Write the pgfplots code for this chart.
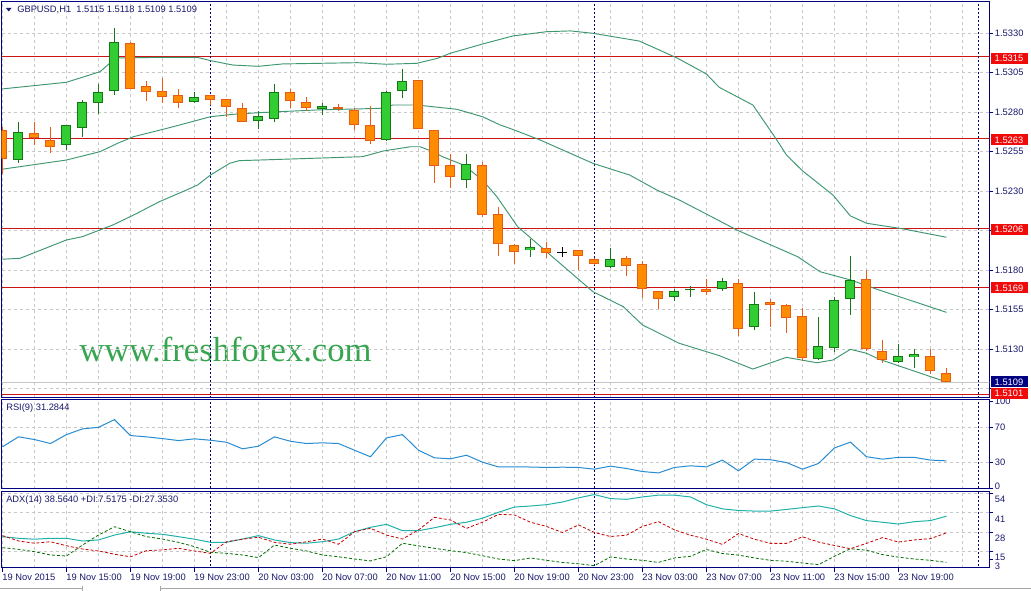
\documentclass[border=0pt]{standalone}
\usepackage{pgfplots}
\pgfplotsset{compat=1.18}
\usepackage{pgfplotstable}
\usepackage{fontspec}
\setmainfont{Liberation Sans}
\newfontfamily\wmfont{Liberation Serif}
\definecolor{navyc}{RGB}{25,25,110}
\definecolor{framec}{RGB}{0,0,128}
\definecolor{gridc}{RGB}{200,200,200}
\definecolor{bullfill}{RGB}{50,205,50}
\definecolor{bullline}{RGB}{20,120,20}
\definecolor{bearfill}{RGB}{255,140,0}
\definecolor{bearline}{RGB}{232,92,20}
\definecolor{bandc}{RGB}{60,150,110}
\definecolor{lvlred}{RGB}{205,20,20}
\definecolor{boxred}{RGB}{240,10,10}
\definecolor{rsic}{RGB}{40,140,210}
\definecolor{adxc}{RGB}{32,178,170}
\definecolor{dipc}{RGB}{0,110,0}
\definecolor{dimc}{RGB}{200,0,0}
\definecolor{wmc}{RGB}{55,165,80}

\pgfplotstableread{
k O H L C
1 1.52494 1.52737 1.52479 1.52671
4 1.52593 1.52716 1.52559 1.52716
5 1.52701 1.52876 1.52644 1.52861
6 1.52855 1.52977 1.52785 1.52927
7 1.52931 1.53332 1.52909 1.53241
12 1.52861 1.52927 1.52855 1.52893
16 1.52741 1.52808 1.52691 1.52773
17 1.52758 1.52977 1.52739 1.52928
20 1.52821 1.52855 1.52783 1.52842
24 1.52621 1.52930 1.52615 1.52925
25 1.52931 1.53070 1.52891 1.52994
29 1.52372 1.52532 1.52321 1.52473
33 1.51925 1.51994 1.51884 1.51944
38 1.51821 1.51937 1.51815 1.51868
42 1.51627 1.51678 1.51606 1.51665
43 1.51675 1.51697 1.51631 1.51684
45 1.51678 1.51747 1.51665 1.51728
47 1.51437 1.51659 1.51422 1.51583
51 1.51235 1.51507 1.51230 1.51317
52 1.51304 1.51627 1.51279 1.51608
53 1.51615 1.51887 1.51513 1.51735
56 1.51216 1.51330 1.51210 1.51254
57 1.51247 1.51298 1.51178 1.51266
}\bull

\pgfplotstableread{
k O H L C
0 1.52686 1.52705 1.52406 1.52501
2 1.52665 1.52737 1.52591 1.52634
3 1.52621 1.52705 1.52542 1.52577
8 1.53235 1.53241 1.52945 1.52947
9 1.52965 1.52996 1.52872 1.52925
10 1.52931 1.53013 1.52859 1.52893
11 1.52906 1.52946 1.52827 1.52855
13 1.52906 1.52909 1.52844 1.52874
14 1.52880 1.52885 1.52770 1.52830
15 1.52823 1.52855 1.52735 1.52735
18 1.52927 1.52944 1.52827 1.52874
19 1.52863 1.52893 1.52808 1.52827
21 1.52832 1.52855 1.52808 1.52821
22 1.52813 1.52825 1.52688 1.52722
23 1.52716 1.52842 1.52599 1.52615
26 1.53001 1.53005 1.52691 1.52691
27 1.52684 1.52684 1.52353 1.52456
28 1.52463 1.52532 1.52321 1.52387
30 1.52463 1.52485 1.52137 1.52146
31 1.52153 1.52197 1.51890 1.51963
32 1.51956 1.51969 1.51842 1.51912
34 1.51937 1.51975 1.51874 1.51906
36 1.51925 1.51925 1.51802 1.51887
37 1.51868 1.51874 1.51832 1.51836
39 1.51874 1.51887 1.51764 1.51823
40 1.51836 1.51855 1.51625 1.51678
41 1.51665 1.51665 1.51555 1.51615
44 1.51682 1.51747 1.51646 1.51665
46 1.51716 1.51747 1.51384 1.51425
48 1.51596 1.51615 1.51437 1.51583
49 1.51577 1.51583 1.51399 1.51494
50 1.51507 1.51558 1.51228 1.51247
54 1.51747 1.51798 1.51285 1.51304
55 1.51285 1.51355 1.51209 1.51228
58 1.51254 1.51298 1.51140 1.51159
59 1.51150 1.51180 1.51090 1.51090
}\bear

\pgfplotstableread{
k O H L C
35 1.51912 1.51944 1.51880 1.51912
}\doji

\pgfplotstableread{
k p
0 1.52946
4 1.52988
6.1 1.53055
6.7 1.53108
7.2 1.53142
9.5 1.53145
12.2 1.53145
13 1.53125
14.4 1.53097
16 1.53089
17.5 1.53104
22.2 1.53112
24 1.53102
25.9 1.53108
27.2 1.53140
28 1.53172
30 1.53230
31.9 1.53281
34 1.53308
35.5 1.53313
36.9 1.53298
39.8 1.53249
42.2 1.53140
44 1.53040
44.8 1.52956
46.9 1.52844
48.4 1.52623
49 1.52528
50 1.52428
51.9 1.52275
53 1.52142
54 1.52096
56.3 1.52060
59 1.52007
}\bbup

\pgfplotstableread{
k p
0 1.52438
4 1.52496
6.1 1.52549
7.2 1.52602
8.2 1.52644
10.3 1.52697
13 1.52770
14.4 1.52785
16.1 1.52796
19.7 1.52813
23.6 1.52823
24.4 1.52844
25.9 1.52844
28.4 1.52817
30 1.52770
31.1 1.52718
31.7 1.52697
33.6 1.52623
36.9 1.52475
39.2 1.52401
40.9 1.52306
42.3 1.52243
44.7 1.52117
45.9 1.52053
49.7 1.51884
51.1 1.51789
53 1.51737
54.8 1.51673
59 1.51532
}\bbmid

\pgfplotstableread{
k p
0 1.51868
1.1 1.51874
4 1.51990
5 1.52011
6.9 1.52085
8.2 1.52148
9.8 1.52232
11.5 1.52306
12.2 1.52338
13 1.52401
14.2 1.52475
14.8 1.52492
16.1 1.52496
22.5 1.52517
23.8 1.52553
25.5 1.52580
26.1 1.52580
26.9 1.52549
27.5 1.52517
28.8 1.52465
30 1.52370
30.9 1.52264
32.2 1.52074
34 1.51916
36.9 1.51663
38.8 1.51568
40 1.51452
42.3 1.51336
44.8 1.51258
46.9 1.51173
49 1.51247
50.9 1.51213
51.9 1.51230
53 1.51298
54 1.51273
54.8 1.51235
59 1.51091
}\bblow

\pgfplotstableread{
k v
0 47.5
1 59
2 55.9
3 51.3
4 61.6
5 68.2
6 70
7 78.9
8 60.5
9 59
10 57
11 54.7
12 56.7
13 55.1
14 52.8
15 45.2
16 48.2
17 59
18 53.9
19 51.3
20 52.1
21 51.3
22 43.6
23 36
24 57.8
25 61.6
26 43.6
27 34.8
28 33.7
29 37.8
30 29.8
31 24.3
32 24.5
33 24.2
34 23.7
35 24
36 23.7
37 21.7
38 25.2
39 22.5
40 19
41 17.4
42 23.7
43 25.6
44 24.4
45 32.2
46 19.8
47 33.3
48 32.6
49 29.4
50 21.7
51 28.3
52 46.2
53 52.9
54 36.1
55 33.3
56 35.3
57 35.3
58 32.2
59 31.3
}\rsi

\pgfplotstableread{
k adx dip dim
0 24.8 17.4 25.5
1 23.7 16.3 21.9
2 23.1 14.7 20.4
3 23.7 12.5 21.4
4 23.7 11.8 18.7
5 21.9 19.2 16.5
6 22.6 25.9 15.2
7 25.9 31.5 13.0
8 28.1 28.1 11.3
9 27.1 24.8 15.4
10 26.4 23.2 15.9
11 24.8 21.0 17.0
12 23.1 18.1 15.2
13 21.0 14.3 13.6
14 21.0 13.6 21.4
15 23.2 12.5 23.1
16 25.5 10.7 24.4
17 22.6 19.2 21.0
18 20.8 17.0 19.7
19 20.4 15.2 21.4
20 21.4 12.5 23.2
21 23.2 11.3 19.7
22 28.1 9.8 28.1
23 31.1 8.5 30.4
24 33.1 11.3 25.9
25 28.8 20.4 23.2
26 28.8 18.6 29.3
27 30.8 17.0 37.8
28 33.1 15.4 36.0
29 34.5 14.1 30.4
30 37.2 12.0 34.5
31 41.2 9.8 39.8
32 44.7 8.7 39.4
33 45.4 10.5 34.5
34 46.3 8.9 31.7
35 48.1 7.5 27.6
36 50.9 6.6 32.7
37 53.1 5.3 27.6
38 50.4 11.2 24.9
39 49.9 9.8 25.8
40 51.5 8.9 31.7
41 52.7 7.5 34.9
42 52.7 10.5 29.4
43 51.5 11.6 25.8
44 46.3 16.2 23.1
45 43.5 13.5 19.6
46 42.4 12.4 26.9
47 42.0 10.5 23.1
48 42.0 8.9 20.3
49 43.1 8.3 20.3
50 44.3 7.1 24.7
51 45.4 6.0 21.2
52 43.5 11.6 18.9
53 39.0 16.7 16.7
54 35.6 15.7 20.3
55 34.5 12.8 24.2
56 33.3 11.0 21.2
57 34.9 9.8 22.6
58 35.6 8.9 23.5
59 38.56 7.52 27.35
}\adx

\pgfplotsset{
  panel/.style={scale only axis, width=740.7pt, xmin=-0.05, xmax=61.68,
    anchor=south west,
    axis line style={framec, line width=0.6pt},
    xtick={0,4,...,56}, minor xtick={2,6,...,58,60},
    xmajorgrids, xminorgrids, ymajorgrids,
    grid style={gridc, dash pattern=on 2.25pt off 2.25pt, line width=0.5pt},
    minor tick length=0pt,
    tick label style={font=\fontsize{7}{8}\selectfont, text=navyc},
    ytick pos=right, yticklabel pos=right,
    yticklabel style={anchor=west, inner sep=0pt, xshift=1pt},
    tick align=outside, major tick length=3pt,
    ytick style={framec, line width=0.6pt},
    clip=true},
  wick/.style={draw=none, forget plot, error bars/y dir=both, error bars/y explicit,
    error bars/error mark=none, error bars/error bar style={draw=#1, line width=0.75pt, solid}},
  body/.style 2 args={draw=none, forget plot, error bars/y dir=both, error bars/y explicit,
    error bars/error mark=none, error bars/error bar style={draw=#1, line width=#2, solid}},
  sep/.style={framec, line width=0.6pt, dash pattern=on 1.5pt off 1.5pt, forget plot},
}

\begin{document}
\begin{tikzpicture}
\path[use as bounding box, fill=white] (0,0) rectangle (773.25pt,443.25pt);

\begin{scope}[x=0.75pt,y=-0.75pt,yshift=443.25pt]
\node[anchor=base west, inner sep=0pt, text=wmc, font=\wmfont\fontsize{26}{26}\selectfont] at (79,361.7) {www.freshforex.com};
\end{scope}

% main price panel
\begin{axis}[panel, at={(1.275pt,145.125pt)}, height=296.85pt,
  ymin=1.50993, ymax=1.53498,
  ytick={1.5105,1.5130,1.5155,1.5180,1.5205,1.5230,1.5255,1.5280,1.5305,1.5330},
  yticklabels={,1.5130,1.5155,1.5180,,1.5230,1.5255,1.5280,1.5305,1.5330},
  xticklabels={}, xtick style={draw=none}]
\addplot[lvlred, line width=0.75pt, forget plot] coordinates {(-1,1.5315) (63,1.5315)};
\addplot[lvlred, line width=0.75pt, forget plot] coordinates {(-1,1.5263) (63,1.5263)};
\addplot[lvlred, line width=0.75pt, forget plot] coordinates {(-1,1.5206) (63,1.5206)};
\addplot[lvlred, line width=0.75pt, forget plot] coordinates {(-1,1.5169) (63,1.5169)};
\addplot[lvlred, line width=0.75pt, forget plot] coordinates {(-1,1.5101) (63,1.5101)};
\addplot[gray!45, line width=0.75pt, forget plot] coordinates {(-1,1.5109) (63,1.5109)};
\addplot[sep] coordinates {(13,1.50) (13,1.54)};
\addplot[sep] coordinates {(37,1.50) (37,1.54)};
\addplot[sep] coordinates {(61,1.50) (61,1.54)};
\addplot[bandc, line width=0.7pt, forget plot] table[x=k,y=p]{\bbup};
\addplot[bandc, line width=0.7pt, forget plot] table[x=k,y=p]{\bbmid};
\addplot[bandc, line width=0.7pt, forget plot] table[x=k,y=p]{\bblow};
% wicks
\addplot[wick=bullline] table[x=k, y expr={(\thisrow{H}+\thisrow{L})/2}, y error expr={(\thisrow{H}-\thisrow{L})/2}]{\bull};
\addplot[wick=bearline] table[x=k, y expr={(\thisrow{H}+\thisrow{L})/2}, y error expr={(\thisrow{H}-\thisrow{L})/2}]{\bear};
\addplot[wick=black] table[x=k, y expr={(\thisrow{H}+\thisrow{L})/2}, y error expr={(\thisrow{H}-\thisrow{L})/2}]{\doji};
% bodies
\addplot[body={bullline}{7.5pt}] table[x=k, y expr={(\thisrow{O}+\thisrow{C})/2}, y error expr={max(abs(\thisrow{O}-\thisrow{C})/2,0.00004)}]{\bull};
\addplot[body={bullfill}{6pt}] table[x=k, y expr={(\thisrow{O}+\thisrow{C})/2}, y error expr={max(abs(\thisrow{O}-\thisrow{C})/2-0.0000633,0)}]{\bull};
\addplot[body={bearline}{7.5pt}] table[x=k, y expr={(\thisrow{O}+\thisrow{C})/2}, y error expr={max(abs(\thisrow{O}-\thisrow{C})/2,0.00004)}]{\bear};
\addplot[body={bearfill}{6pt}] table[x=k, y expr={(\thisrow{O}+\thisrow{C})/2}, y error expr={max(abs(\thisrow{O}-\thisrow{C})/2-0.0000633,0)}]{\bear};
\addplot[body={black}{7.5pt}] table[x=k, y expr={(\thisrow{O}+\thisrow{C})/2}, y error expr={0.00003}]{\doji};
\end{axis}

% RSI panel
\begin{axis}[panel, at={(1.275pt,76.725pt)}, height=66.9pt,
  ymin=-0.8, ymax=102.1,
  ytick={30,70}, yticklabels={30,70},
  extra y ticks={0,100}, extra y tick labels={\raisebox{3pt}{0},\raisebox{-1.5pt}{100}},
  extra y tick style={grid=none},
  xticklabels={}, xtick style={draw=none}]
\addplot[sep] coordinates {(13,-5) (13,110)};
\addplot[sep] coordinates {(37,-5) (37,110)};
\addplot[sep] coordinates {(61,-5) (61,110)};
\addplot[rsic, line width=0.75pt] table[x=k,y=v]{\rsi};
\end{axis}

% ADX panel
\begin{axis}[panel, at={(1.275pt,17.475pt)}, height=57.525pt,
  ymin=3.95, ymax=55.5,
  ytick={15,28,41,54}, yticklabels={15,28,41,54},
  yticklabel style={yshift=-4.9pt},
  extra y ticks={9.5}, extra y tick labels={3},
  extra y tick style={grid=none},
  xtick pos=bottom,
  xticklabels={19 Nov 2015,19 Nov 15:00,19 Nov 19:00,19 Nov 23:00,20 Nov 03:00,20 Nov 07:00,20 Nov 11:00,20 Nov 15:00,20 Nov 19:00,20 Nov 23:00,23 Nov 03:00,23 Nov 07:00,23 Nov 11:00,23 Nov 15:00,23 Nov 19:00},
  xticklabel style={anchor=north west, inner sep=0pt, xshift=-0.3pt, yshift=-1.2pt},
  xtick style={framec, line width=0.6pt}]
\addplot[sep] coordinates {(13,0) (13,60)};
\addplot[sep] coordinates {(37,0) (37,60)};
\addplot[sep] coordinates {(61,0) (61,60)};
\addplot[adxc, line width=0.75pt] table[x=k,y=adx]{\adx};
\addplot[dipc, line width=0.6pt, dash pattern=on 2.25pt off 1.5pt] table[x=k,y=dip]{\adx};
\addplot[dimc, line width=0.6pt, dash pattern=on 2.25pt off 1.5pt] table[x=k,y=dim]{\adx};
\end{axis}

\begin{scope}[x=0.75pt,y=-0.75pt,yshift=443.25pt, font=\fontsize{7}{8}\selectfont]
\fill[navyc] (6,8) -- (11.5,8) -- (8.75,11.5) -- cycle;
\node[anchor=west, inner sep=0pt, text=navyc] at (17,9.5) {GBPUSD,H1\ \ 1.5115 1.5118 1.5109 1.5109};
\node[anchor=west, inner sep=0pt, text=navyc] at (6,408.5) {RSI(9) 31.2844};
\node[anchor=west, inner sep=0pt, text=navyc] at (6,500) {ADX(14) 38.5640 +DI:7.5175 -DI:27.3530};
\foreach \yy/\tt in {58.3/1.5315,140/1.5263,229.5/1.5206,288/1.5169,393.3/1.5101}{
  \node[fill=boxred, text=white, inner sep=0pt, minimum width=27.75pt, minimum height=8.25pt] at (1009,\yy) {\tt};
}
\node[fill=framec, text=white, inner sep=0pt, minimum width=27.75pt, minimum height=8.25pt] at (1009,382) {1.5109};
\draw[gray!70, line width=0.6pt] (0,588.5) -- (82,588.5) (160,588.5) -- (1031,588.5);
\draw[gray!70, line width=0.6pt] (82,586) -- (82,591) (160,586) -- (160,591);
\end{scope}
\end{tikzpicture}
\end{document}
